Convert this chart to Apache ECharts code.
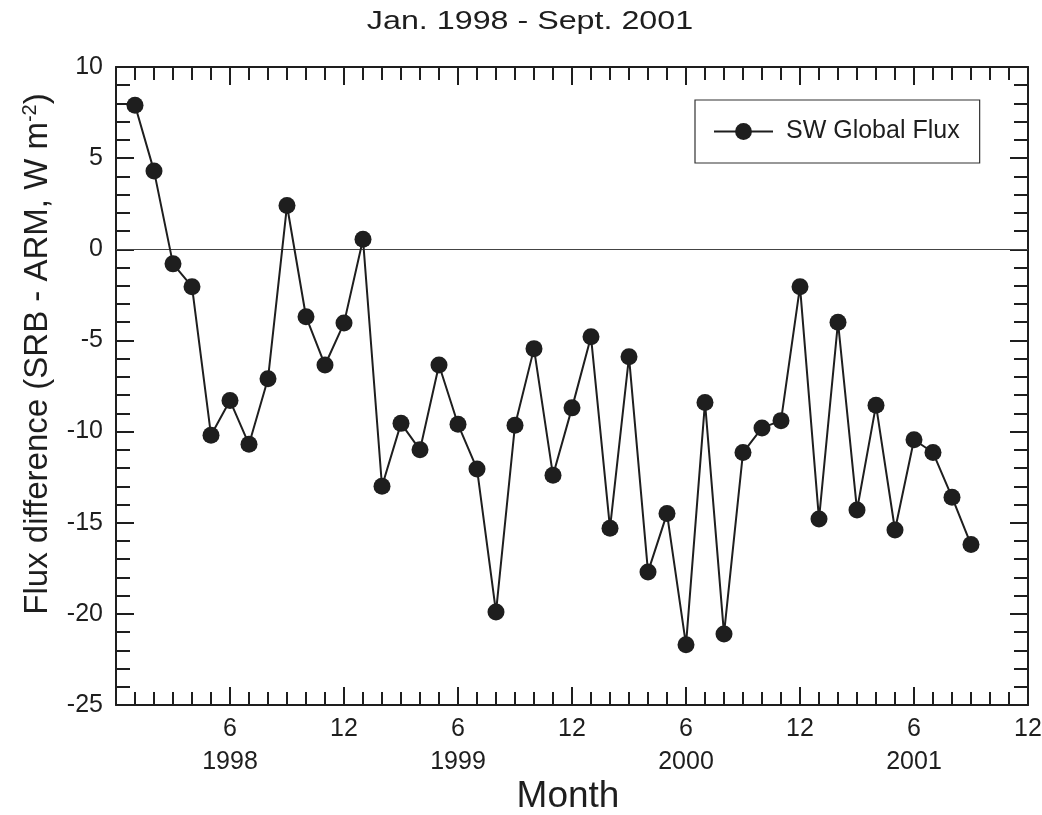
<!DOCTYPE html>
<html>
<head>
<meta charset="utf-8">
<script src="https://cdn.jsdelivr.net/npm/echarts/dist/echarts.min.js"></script>
<style>
  html, body { margin: 0; padding: 0; background: #fff; }
  #chart { width: 1042px; height: 815px; }
</style>
</head>
<body>
<div id="chart"></div>
<script>
// Monthly SW global flux difference (SRB - ARM), Jan 1998 (month 1) to Sept 2001 (month 45)
const fluxDiff = [
  7.9, 4.3, -0.8, -2.05, -10.2, -8.3, -10.7, -7.1, 2.4, -3.7, -6.35, -4.05,
  0.55, -13.0, -9.55, -11.0, -6.35, -9.6, -12.05, -19.9, -9.65, -5.45, -12.4, -8.7,
  -4.8, -15.3, -5.9, -17.7, -14.5, -21.7, -8.4, -21.1, -11.15, -9.8, -9.4, -2.05,
  -14.8, -4.0, -14.3, -8.55, -15.4, -10.45, -11.15, -13.6, -16.2
];
// Month number counted from Jan 1998 = 1
const months = fluxDiff.map((_, i) => i + 1);
// Year printed under the mid-year tick of each year
const yearLabels = ['1998', '1999', '2000', '2001'];
const seriesName = 'SW Global Flux';

const INK = '#1e1e1e';
const FONT = '"Liberation Sans", Arial, Helvetica, sans-serif';

const chart = echarts.init(document.getElementById('chart'), null, { renderer: 'canvas' });

const xLabel = function (v) {
  if (v === 0) return '';
  const m = ((v - 1) % 12) + 1;
  if (m === 6) {
    const y = yearLabels[Math.floor(v / 12)];
    return y ? m + '\n' + y : String(m);
  }
  return String(m);
};

// Shared frame styling: every side carries inward ticks, no grid lines
function frame() {
  return {
    axisLine: { show: true, onZero: false, lineStyle: { color: INK, width: 2 } },
    axisTick: { show: true, inside: true, length: 18, lineStyle: { color: INK, width: 2 } },
    splitLine: { show: false }
  };
}

chart.setOption({
  backgroundColor: '#fff',
  animation: false,
  grid: { left: 116, right: 14, top: 67, bottom: 110, containLabel: false, outerBoundsMode: 'none' },
  xAxis: [
    Object.assign(frame(), {
      type: 'value', position: 'bottom', min: 0, max: 48, interval: 6,
      minorTick: { show: true, splitNumber: 6, length: 13, lineStyle: { color: INK, width: 2 } },
      axisLabel: {
        show: true, margin: 8, formatter: xLabel, color: INK,
        fontFamily: FONT, fontSize: 25, lineHeight: 33,
        showMinLabel: false, showMaxLabel: true, hideOverlap: false
      }
    }),
    Object.assign(frame(), {
      type: 'value', position: 'top', min: 0, max: 48, interval: 6,
      minorTick: { show: true, splitNumber: 6, length: 13, lineStyle: { color: INK, width: 2 } },
      axisLabel: { show: false }
    })
  ],
  yAxis: [
    Object.assign(frame(), {
      type: 'value', position: 'left', min: -25, max: 10, interval: 5,
      minorTick: { show: true, splitNumber: 5, length: 14, lineStyle: { color: INK, width: 2 } },
      axisLabel: {
        show: true, margin: 13, color: INK, fontFamily: FONT, fontSize: 25,
        showMinLabel: true, showMaxLabel: true, hideOverlap: false
      }
    }),
    Object.assign(frame(), {
      type: 'value', position: 'right', min: -25, max: 10, interval: 5,
      minorTick: { show: true, splitNumber: 5, length: 14, lineStyle: { color: INK, width: 2 } },
      axisLabel: { show: false }
    })
  ],
  legend: {
    show: true,
    left: 695, top: 100,
    orient: 'horizontal',
    borderColor: '#333', borderWidth: 1.2,
    padding: [17, 20, 17, 18],
    itemWidth: 59, itemHeight: 21,
    textStyle: { color: INK, fontFamily: FONT, fontSize: 25, lineHeight: 29, padding: [0, 0, 0, 8] },
    data: [seriesName]
  },
  series: [{
    name: seriesName,
    type: 'line',
    xAxisIndex: 0, yAxisIndex: 0,
    data: months.map((m, i) => [m, fluxDiff[i]]),
    symbol: 'circle', symbolSize: 17,
    itemStyle: { color: INK },
    lineStyle: { color: INK, width: 2 },
    z: 3,
    markLine: {
      silent: true, symbol: 'none', animation: false,
      label: { show: false },
      lineStyle: { color: '#444', width: 1.2, type: 'solid' },
      data: [{ yAxis: 0 }],
      z: 1
    }
  }],
  graphic: [
    {
      type: 'text', x: 530, y: 22, scaleX: 1.29,
      style: {
        text: 'Jan. 1998 - Sept. 2001', fill: INK,
        font: '25px ' + FONT, textAlign: 'center', textVerticalAlign: 'middle'
      }
    },
    {
      type: 'text', x: 38, y: 354, rotation: Math.PI / 2,
      style: {
        text: 'Flux difference (SRB - ARM, W m{sup|-2})', fill: INK,
        font: '33px ' + FONT, textAlign: 'center', textVerticalAlign: 'middle',
        rich: { sup: { fontSize: 20, fontFamily: FONT, fill: INK, padding: [0, 0, 16, 0] } }
      }
    },
    {
      type: 'text', x: 568, y: 797,
      style: {
        text: 'Month', fill: INK,
        font: '37px ' + FONT, textAlign: 'center', textVerticalAlign: 'middle'
      }
    }
  ]
});
</script>
</body>
</html>
